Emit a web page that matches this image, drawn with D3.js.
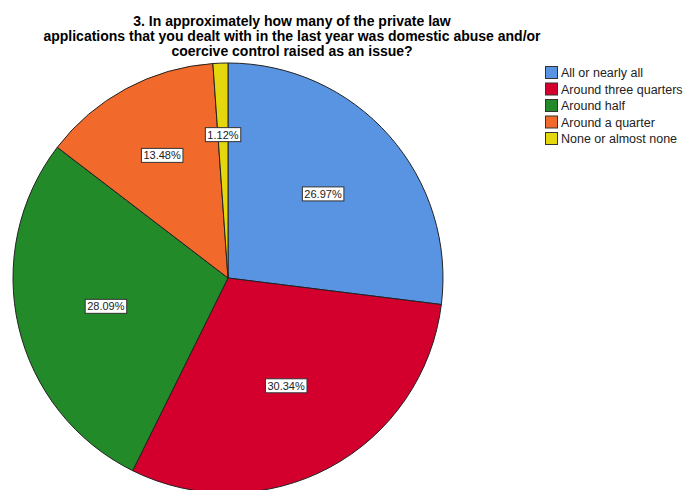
<!DOCTYPE html>
<html>
<head>
<meta charset="utf-8">
<script src="https://cdn.jsdelivr.net/npm/d3@7"></script>
<style>
  html, body { margin: 0; padding: 0; background: #fff; }
  svg { display: block; }
</style>
</head>
<body>
<svg id="chart" width="687" height="490"></svg>
<script>
const titleLines = [
  "3. In approximately how many of the private law",
  "applications that you dealt with in the last year was domestic abuse and/or",
  "coercive control raised as an issue?"
];
const categories = ["All or nearly all", "Around three quarters", "Around half", "Around a quarter", "None or almost none"];
const percents = [26.97, 30.34, 28.09, 13.48, 1.12];
const colors = ["#5894E2", "#D3002D", "#238A2A", "#F26A2B", "#E4D70E"];

const svg = d3.select("#chart");
const cx = 228, cy = 278, R = 215;

// Title
const title = svg.append("text")
  .attr("x", 292).attr("y", 26)
  .attr("text-anchor", "middle")
  .style("font-family", "Arial, 'Liberation Sans', sans-serif")
  .style("font-size", "14px")
  .style("font-weight", "bold")
  .attr("fill", "#000");
titleLines.forEach((l, i) => {
  title.append("tspan").attr("x", 292).attr("dy", i === 0 ? 0 : 15).text(l);
});

// Pie
const data = categories.map((c, i) => ({ cat: c, value: percents[i], color: colors[i] }));
const pie = d3.pie().value(d => d.value).sort(null).startAngle(0).endAngle(2 * Math.PI);
const arcs = pie(data);
const arc = d3.arc().innerRadius(0).outerRadius(R);

const g = svg.append("g").attr("transform", `translate(${cx},${cy})`);
g.selectAll("path.slice").data(arcs).enter().append("path")
  .attr("class", "slice")
  .attr("d", arc)
  .attr("fill", d => d.data.color)
  .attr("stroke", "#222")
  .attr("stroke-width", 1);

// Labels at sector centroid
const fmt = d => d.toFixed(2) + "%";
arcs.forEach(a => {
  const half = (a.endAngle - a.startAngle) / 2;
  const mid = (a.startAngle + a.endAngle) / 2;
  const dist = (2 * R * Math.sin(half)) / (3 * half);
  const x = Math.sin(mid) * dist;
  const y = -Math.cos(mid) * dist;
  const lg = g.append("g").attr("transform", `translate(${x},${y})`);
  const t = lg.append("text")
    .attr("text-anchor", "middle")
    .attr("dy", "0.35em")
    .style("font-family", "Arial, 'Liberation Sans', sans-serif")
    .style("font-size", "11px")
    .attr("fill", "#222")
    .text(fmt(a.data.value));
  const bb = t.node().getBBox();
  lg.insert("rect", "text")
    .attr("x", bb.x - 2).attr("y", bb.y - 1)
    .attr("width", bb.width + 4).attr("height", bb.height + 2)
    .attr("fill", "#fff")
    .attr("stroke", "#333")
    .attr("stroke-width", 1);
});

// Legend
const lgY = d3.scalePoint().domain(categories).range([73, 139]);
const legend = svg.append("g");
categories.forEach((c, i) => {
  const y = lgY(c);
  legend.append("rect")
    .attr("x", 545.5).attr("y", y - 6.5)
    .attr("width", 12).attr("height", 12)
    .attr("fill", colors[i])
    .attr("stroke", "#333").attr("stroke-width", 1);
  legend.append("text")
    .attr("x", 561).attr("y", y)
    .attr("dy", "0.35em")
    .style("font-family", "Arial, 'Liberation Sans', sans-serif")
    .style("font-size", "12.5px")
    .attr("fill", "#222")
    .text(c);
});
</script>
</body>
</html>
